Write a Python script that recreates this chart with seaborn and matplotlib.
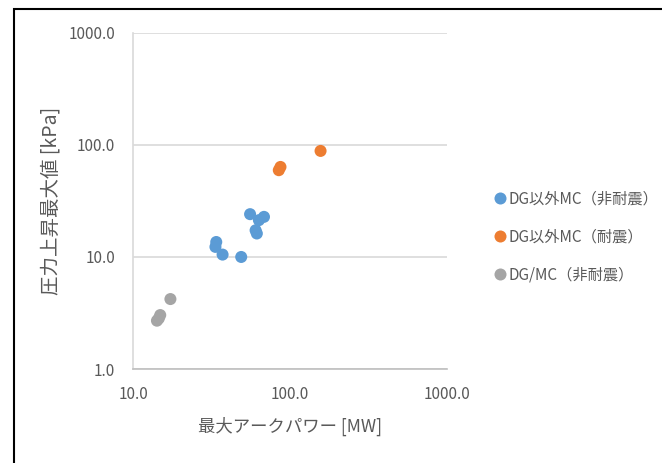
import pandas as pd
import matplotlib.pyplot as plt
import matplotlib.ticker as mticker
from matplotlib.patches import Rectangle
import seaborn as sns

# データ (最大アークパワー [MW], 圧力上昇最大値 [kPa])
blue_x = [55.7, 68.3, 63.4, 60.4, 61.5, 33.9, 33.5, 37.2, 48.9]
blue_y = [24.1, 22.8, 21.3, 17.3, 16.2, 13.6, 12.3, 10.5, 10.0]
orange_x = [84.9, 87.0, 156.7]
orange_y = [59.5, 63.6, 88.4]
gray_x = [17.3, 14.9, 14.6, 14.2]
gray_y = [4.21, 3.03, 2.83, 2.70]

labels = ["DG以外MC（非耐震）", "DG以外MC（耐震）", "DG/MC（非耐震）"]
colors = ["#5B9BD5", "#ED7D31", "#A5A5A5"]

df = pd.DataFrame({
    "x": blue_x + orange_x + gray_x,
    "y": blue_y + orange_y + gray_y,
    "group": [labels[0]] * len(blue_x) + [labels[1]] * len(orange_x) + [labels[2]] * len(gray_x),
})

sns.set_style("white")
plt.rcParams['font.family'] = ['Noto Sans CJK JP', 'DejaVu Sans']

fig = plt.figure(figsize=(6.62, 4.63), dpi=100)
ax = fig.add_axes([0.201, 0.203, 0.474, 0.726])

sns.scatterplot(data=df, x="x", y="y", hue="group", hue_order=labels,
                palette=colors, s=75, edgecolor="none", ax=ax)

ax.set_xscale("log")
ax.set_yscale("log")
ax.set_xlim(10, 1000)
ax.set_ylim(1, 1000)
fmt = mticker.FuncFormatter(lambda v, p: f"{v:.1f}")
ax.xaxis.set_major_locator(mticker.FixedLocator([10, 100, 1000]))
ax.yaxis.set_major_locator(mticker.FixedLocator([1, 10, 100, 1000]))
ax.xaxis.set_minor_locator(mticker.NullLocator())
ax.yaxis.set_minor_locator(mticker.NullLocator())
ax.xaxis.set_major_formatter(fmt)
ax.yaxis.set_major_formatter(fmt)
ax.tick_params(axis="both", length=0, labelsize=11, labelcolor="#595959")
ax.tick_params(axis="x", pad=12)
ax.tick_params(axis="y", pad=13)
ax.yaxis.grid(True, color="#D9D9D9", linewidth=1.2)
ax.xaxis.grid(False)
for s in ["top", "right"]:
    ax.spines[s].set_visible(False)
ax.spines["left"].set_color("#D9D9D9")
ax.spines["bottom"].set_color("#BFBFBF")
ax.spines["left"].set_linewidth(1.2)
ax.spines["bottom"].set_linewidth(1.2)

ax.set_xlabel("最大アークパワー [MW]", fontsize=12.5, color="#595959", labelpad=10)
ax.set_ylabel("圧力上昇最大値 [kPa]", fontsize=14, color="#595959", labelpad=5)

ax.legend(loc="center left", bbox_to_anchor=(1.095, 0.393), frameon=False,
          fontsize=11, labelcolor="#595959", handletextpad=0.0,
          handlelength=1.2, labelspacing=1.35, markerscale=1.0)

# 外枠
fig.patches.append(Rectangle((14 / 662, -0.1), 1.2, 1.1 - 9 / 463,
                             transform=fig.transFigure, fill=False,
                             edgecolor="black", linewidth=1.5, clip_on=False))

fig.savefig("out.png", dpi=100)
